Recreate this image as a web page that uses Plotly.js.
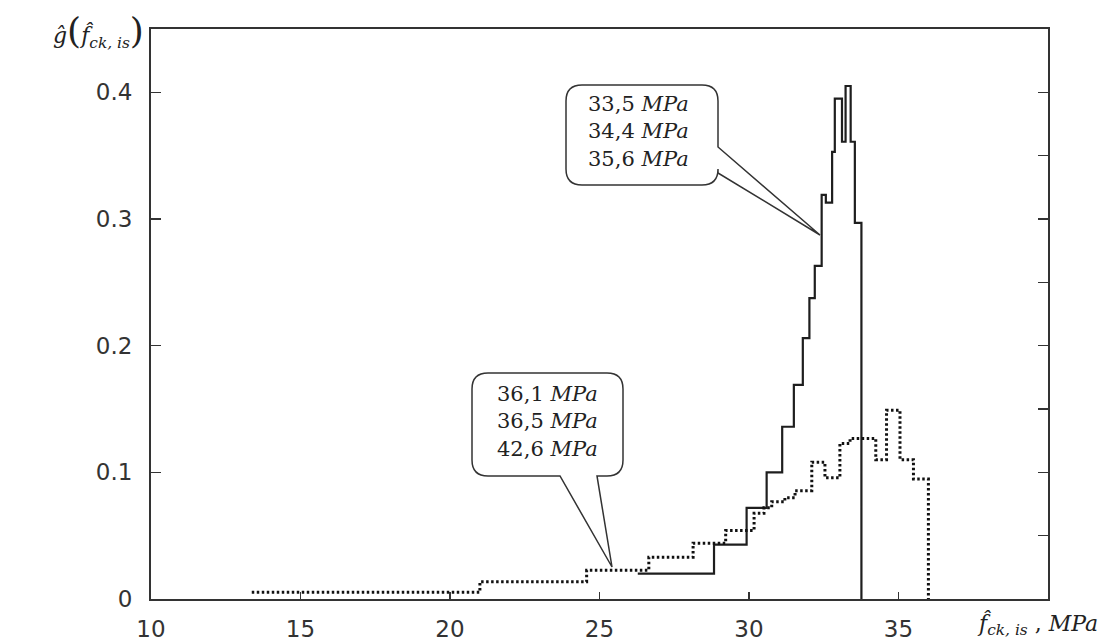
<!DOCTYPE html>
<html>
<head>
<meta charset="utf-8">
<script src="https://cdn.plot.ly/plotly-3.0.1.min.js"></script>
<style>html,body{margin:0;padding:0;background:#fff;}</style>
</head>
<body>
<div id="chart" style="width:1120px;height:641px;"></div>
<script>
// ---- data ----
const solidX = [26.28, 28.83, 29.92, 30.59, 31.11, 31.50, 31.80, 32.02, 32.20, 32.43, 32.57, 32.78, 32.87, 33.11, 33.23, 33.40, 33.54, 33.76];
const solidY = [0.020, 0.043, 0.072, 0.100, 0.136, 0.169, 0.206, 0.2375, 0.263, 0.319, 0.313, 0.353, 0.395, 0.361, 0.405, 0.361, 0.297, 0];

const dotX = [13.37, 21.00, 24.57, 26.65, 28.13, 29.22, 30.17, 30.50, 30.76, 31.20, 31.54, 32.10, 32.54, 33.04, 33.38, 34.24, 34.60, 35.05, 35.50, 36.00];
const dotY = [0.0053, 0.0137, 0.0226, 0.0329, 0.044, 0.054, 0.0676, 0.072, 0.0768, 0.080, 0.0855, 0.108, 0.0957, 0.1228, 0.1268, 0.110, 0.149, 0.110, 0.0947, 0];

const xTickVals = [10, 15, 20, 25, 30, 35];
const yTickVals = [0, 0.1, 0.2, 0.3, 0.4];
const yTickText = ['0', '0.1', '0.2', '0.3', '0.4'];

const callout1Lines = ['33,5', '34,4', '35,6'];
const callout2Lines = ['36,1', '36,5', '42,6'];
const unit = 'MPa';

// ---- geometry helpers (pixel -> data) ----
const W = 1120, H = 641;
const M = {l: 151, r: 72, t: 29, b: 42};
const xRange = [10, 40], yRange = [0, 0.45];
const pw = W - M.l - M.r, ph = H - M.t - M.b;
const X = px => xRange[0] + (px - M.l) / pw * (xRange[1] - xRange[0]);
const Y = py => yRange[0] + (M.t + ph - py) / ph * (yRange[1] - yRange[0]);
const P = (px, py) => X(px).toFixed(4) + ',' + Y(py).toFixed(5);

function calloutRight(l, r, t, b, rad, ty1, ty2, tipx, tipy) {
  return 'M' + P(l + rad, t) + ' L' + P(r - rad, t) + ' Q' + P(r, t) + ' ' + P(r, t + rad) +
    ' L' + P(r, ty1) + ' L' + P(tipx, tipy) + ' L' + P(r, ty2) +
    ' L' + P(r, b - rad) + ' Q' + P(r, b) + ' ' + P(r - rad, b) +
    ' L' + P(l + rad, b) + ' Q' + P(l, b) + ' ' + P(l, b - rad) +
    ' L' + P(l, t + rad) + ' Q' + P(l, t) + ' ' + P(l + rad, t) + ' Z';
}
function calloutBottom(l, r, t, b, rad, bx1, bx2, tipx, tipy) {
  return 'M' + P(l + rad, t) + ' L' + P(r - rad, t) + ' Q' + P(r, t) + ' ' + P(r, t + rad) +
    ' L' + P(r, b - rad) + ' Q' + P(r, b) + ' ' + P(r - rad, b) +
    ' L' + P(bx2, b) + ' L' + P(tipx, tipy) + ' L' + P(bx1, b) +
    ' L' + P(l + rad, b) + ' Q' + P(l, b) + ' ' + P(l, b - rad) +
    ' L' + P(l, t + rad) + ' Q' + P(l, t) + ' ' + P(l + rad, t) + ' Z';
}

const lineCol = '#1e1e1e';
const traces = [
  {x: solidX, y: solidY, type: 'scatter', mode: 'lines', line: {shape: 'hv', color: lineCol, width: 2.2}, hoverinfo: 'skip'},
  {x: dotX, y: dotY, type: 'scatter', mode: 'lines', line: {shape: 'hv', color: '#111', width: 3, dash: '2.5px,2.5px'}, hoverinfo: 'skip'},
  {x: [xRange[0]], y: [yRange[0]], xaxis: 'x', yaxis: 'y2', type: 'scatter', mode: 'markers', marker: {opacity: 0}, showlegend: false, hoverinfo: 'skip'}
];

const txt = lines => lines.map(s => s + ' <i>' + unit + '</i>').join('<br>');
const tickFont = {family: 'DejaVu Sans', size: 23, color: '#333'};
const serif = {family: 'DejaVu Serif', size: 21, color: '#222'};

const layout = {
  width: W, height: H, autosize: false,
  margin: M,
  paper_bgcolor: '#fff', plot_bgcolor: '#fff',
  showlegend: false,
  xaxis: {
    range: xRange, tickvals: xTickVals, ticks: 'inside', ticklen: 7, tickwidth: 1.5, tickcolor: '#333',
    showline: true, linecolor: '#333', linewidth: 2, mirror: true, showgrid: false, zeroline: false,
    tickfont: tickFont, ticklabelstandoff: 8
  },
  yaxis: {
    range: yRange, tickvals: yTickVals, ticktext: yTickText, ticks: 'inside', ticklen: 10, tickwidth: 1.5, tickcolor: '#333',
    showline: true, linecolor: '#333', linewidth: 2, mirror: true, showgrid: false, zeroline: false,
    tickfont: tickFont, ticklabelstandoff: 12
  },
  yaxis2: {
    range: yRange, overlaying: 'y', side: 'right', dtick: 0.05, tick0: 0, ticks: 'inside', ticklen: 10, tickwidth: 1.5,
    tickcolor: '#333', showticklabels: false, showgrid: false, zeroline: false, showline: false
  },
  shapes: [
    {type: 'path', xref: 'x', yref: 'y', layer: 'above',
     path: calloutRight(566, 718, 85, 185, 16, 147, 173, 820, 235),
     line: {color: '#333', width: 1.5}, fillcolor: '#fff'},
    {type: 'path', xref: 'x', yref: 'y', layer: 'above',
     path: calloutBottom(472, 623, 373, 476, 16, 560, 597, 612, 567),
     line: {color: '#333', width: 1.5}, fillcolor: '#fff'}
  ],
  annotations: [
    {xref: 'x', yref: 'y', x: X(638), y: Y(131), text: txt(callout1Lines), showarrow: false,
     xanchor: 'center', yanchor: 'middle', align: 'left', font: serif},
    {xref: 'x', yref: 'y', x: X(547), y: Y(421), text: txt(callout2Lines), showarrow: false,
     xanchor: 'center', yanchor: 'middle', align: 'left', font: serif},
    {xref: 'paper', yref: 'paper', x: (146 - M.l) / pw, y: (M.t + ph - 31) / ph, xanchor: 'right', yanchor: 'middle',
     showarrow: false, font: {family: 'DejaVu Serif', size: 22, color: '#222'},
     text: '<i>ĝ</i><span style="font-size:36px">(</span><i>f̂</i><sub><i>ck, is</i></sub><span style="font-size:36px">)</span>'},
    {xref: 'paper', yref: 'paper', x: (975 - M.l) / pw, y: (M.t + ph - 624) / ph, xanchor: 'left', yanchor: 'middle',
     showarrow: false, font: {family: 'DejaVu Serif', size: 22, color: '#222'},
     text: '<i>f̂</i><sub><i>ck, is</i></sub> , <i>MPa</i>'}
  ]
};

Plotly.newPlot('chart', traces, layout, {staticPlot: true, displayModeBar: false});
</script>
</body>
</html>
